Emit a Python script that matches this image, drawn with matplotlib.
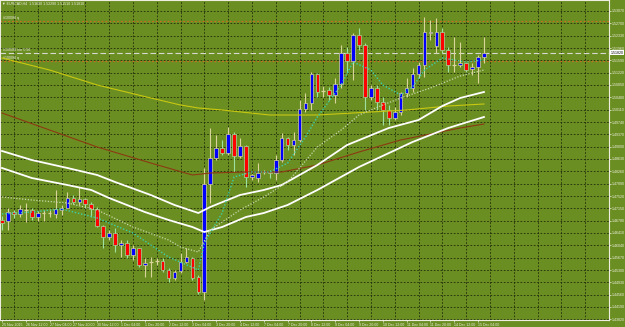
import matplotlib
matplotlib.use('Agg')
import matplotlib.pyplot as plt

plt.rcParams['font.family'] = ['Liberation Sans', 'DejaVu Sans']

# H4 candles, bar 0 = 25 Nov 2015 20:00
opens = [1.4680, 1.4677, 1.4704, 1.4698, 1.4710, 1.4710, 1.4689, 1.4701, 1.4701, 1.4698,
         1.4710, 1.4716, 1.4746, 1.4734, 1.4743, 1.4728, 1.4713, 1.4662, 1.4629, 1.4641,
         1.4605, 1.4611, 1.4575, 1.4596, 1.4545, 1.4554, 1.4557, 1.4557, 1.4530, 1.4506,
         1.4527, 1.4554, 1.4566, 1.4509, 1.4464, 1.4788, 1.4866, 1.4896, 1.4881, 1.4938,
         1.4872, 1.4902, 1.4809, 1.4806, 1.4824, 1.4824, 1.4821, 1.4860, 1.4926, 1.4905,
         1.4920, 1.5013, 1.5031, 1.5118, 1.5067, 1.5070, 1.5055, 1.5088, 1.5181, 1.5157,
         1.5235, 1.5205, 1.5049, 1.5076, 1.5034, 1.5010, 1.4986, 1.5004, 1.5061, 1.5076,
         1.5118, 1.5145, 1.5241, 1.5202, 1.5244, 1.5190, 1.5145, 1.5145, 1.5151, 1.5133,
         1.5139, 1.5169]
highs = [1.4692, 1.4716, 1.4710, 1.4725, 1.4731, 1.4716, 1.4707, 1.4710, 1.4713, 1.4770,
         1.4725, 1.4764, 1.4755, 1.4779, 1.4746, 1.4734, 1.4719, 1.4665, 1.4650, 1.4656,
         1.4620, 1.4620, 1.4605, 1.4596, 1.4566, 1.4569, 1.4566, 1.4566, 1.4536, 1.4530,
         1.4581, 1.4596, 1.4569, 1.4515, 1.4836, 1.4956, 1.4935, 1.4920, 1.4959, 1.4944,
         1.4926, 1.4905, 1.4818, 1.4851, 1.4830, 1.4830, 1.4875, 1.4941, 1.4929, 1.4944,
         1.5040, 1.5061, 1.5124, 1.5121, 1.5082, 1.5079, 1.5106, 1.5205, 1.5199, 1.5241,
         1.5256, 1.5211, 1.5085, 1.5085, 1.5049, 1.5025, 1.5019, 1.5064, 1.5106, 1.5136,
         1.5154, 1.5289, 1.5280, 1.5286, 1.5256, 1.5199, 1.5229, 1.5214, 1.5154, 1.5151,
         1.5175, 1.5229]
lows = [1.4650, 1.4650, 1.4686, 1.4689, 1.4674, 1.4680, 1.4677, 1.4677, 1.4689, 1.4686,
        1.4695, 1.4716, 1.4728, 1.4725, 1.4716, 1.4689, 1.4659, 1.4596, 1.4620, 1.4584,
        1.4569, 1.4566, 1.4560, 1.4539, 1.4509, 1.4509, 1.4545, 1.4524, 1.4494, 1.4500,
        1.4521, 1.4551, 1.4500, 1.4458, 1.4440, 1.4731, 1.4860, 1.4875, 1.4875, 1.4824,
        1.4866, 1.4779, 1.4800, 1.4794, 1.4818, 1.4806, 1.4800, 1.4854, 1.4890, 1.4875,
        1.4914, 1.5004, 1.5010, 1.5049, 1.5049, 1.5040, 1.5031, 1.5076, 1.5121, 1.5100,
        1.5190, 1.5010, 1.5040, 1.5010, 1.4965, 1.4965, 1.4980, 1.4995, 1.5049, 1.5064,
        1.5106, 1.5109, 1.5220, 1.5181, 1.5181, 1.5124, 1.5124, 1.5139, 1.5124, 1.5115,
        1.5091, 1.5151]
closes = [1.4671, 1.4704, 1.4698, 1.4713, 1.4710, 1.4689, 1.4701, 1.4701, 1.4701, 1.4713,
          1.4716, 1.4746, 1.4734, 1.4743, 1.4728, 1.4713, 1.4662, 1.4629, 1.4641, 1.4605,
          1.4611, 1.4575, 1.4596, 1.4545, 1.4551, 1.4554, 1.4557, 1.4530, 1.4506, 1.4524,
          1.4554, 1.4569, 1.4506, 1.4464, 1.4788, 1.4866, 1.4896, 1.4881, 1.4938, 1.4872,
          1.4902, 1.4809, 1.4815, 1.4821, 1.4824, 1.4821, 1.4860, 1.4926, 1.4905, 1.4920,
          1.5013, 1.5031, 1.5118, 1.5064, 1.5067, 1.5055, 1.5088, 1.5181, 1.5157, 1.5235,
          1.5205, 1.5049, 1.5076, 1.5034, 1.5010, 1.4986, 1.5004, 1.5061, 1.5076, 1.5118,
          1.5145, 1.5244, 1.5244, 1.5244, 1.5190, 1.5145, 1.5145, 1.5151, 1.5130, 1.5139,
          1.5169, 1.5181]

# indicator lines (bar index, price)
yellow_x = [0, 8, 16, 25, 30, 33, 37, 45, 50, 53, 68, 75, 81]
yellow_y = [1.5166, 1.5130, 1.5085, 1.5046, 1.5025, 1.5016, 1.5010, 1.4995, 1.4995, 1.4995,
            1.5010, 1.5022, 1.5028]
brown_x = [0, 8, 16, 25, 32, 35, 41, 47, 53, 60, 67, 77, 81]
brown_y = [1.5001, 1.4950, 1.4899, 1.4851, 1.4815, 1.4821, 1.4824, 1.4824, 1.4845, 1.4884,
           1.4920, 1.4956, 1.4968]
white1_x = [0, 5, 11, 16, 19, 25, 29, 33, 35, 40, 44, 47, 50, 53, 58, 65, 70, 74, 77, 81]
white1_y = [1.4887, 1.4860, 1.4836, 1.4815, 1.4794, 1.4755, 1.4725, 1.4701, 1.4719, 1.4755,
            1.4770, 1.4785, 1.4815, 1.4845, 1.4905, 1.4956, 1.4980, 1.5022, 1.5046, 1.5064]
white2_x = [0, 5, 11, 15, 18, 24, 28, 32, 34, 37, 41, 44, 48, 53, 60, 69, 75, 81]
white2_y = [1.4836, 1.4806, 1.4785, 1.4770, 1.4746, 1.4704, 1.4680, 1.4659, 1.4644, 1.4659,
            1.4689, 1.4701, 1.4725, 1.4770, 1.4839, 1.4914, 1.4956, 1.4989]
teal_x = [0, 5, 10, 16, 22, 28, 33, 34, 37, 39, 42, 45, 48, 51, 53, 57, 59, 62, 64, 67, 69, 71, 74, 76, 78, 81]
teal_y = [1.4698, 1.4704, 1.4713, 1.4686, 1.4641, 1.4569, 1.4530, 1.4611, 1.4701, 1.4809,
          1.4824, 1.4824, 1.4851, 1.4929, 1.4989, 1.5085, 1.5154, 1.5130, 1.5085, 1.5055,
          1.5079, 1.5130, 1.5166, 1.5160, 1.5154, 1.5160]
pale_x = [0, 5, 11, 16, 22, 28, 30, 33, 35, 40, 44, 48, 53, 57, 60, 64, 67, 72, 77, 81]
pale_y = [1.4749, 1.4740, 1.4731, 1.4710, 1.4659, 1.4620, 1.4599, 1.4584, 1.4650, 1.4710,
          1.4749, 1.4794, 1.4899, 1.4950, 1.4995, 1.5025, 1.5046, 1.5076, 1.5112, 1.5130]

hline_orange = [1.52785, 1.51570]
hline_white = 1.51820
price_ticks = [1.53070 - 0.0037 * k for k in range(26)]
time_bars = [0, 4, 8, 12, 16, 20, 24, 28, 32, 36, 40, 44, 48, 52, 56, 60, 64, 68, 72, 76, 80]
time_labels = ['25 Nov 2015', '26 Nov 12:00', '27 Nov 04:00', '27 Nov 20:00', '30 Nov 12:00',
               '1 Dec 04:00', '1 Dec 20:00', '2 Dec 12:00', '3 Dec 04:00', '3 Dec 20:00',
               '4 Dec 12:00', '7 Dec 04:00', '7 Dec 20:00', '8 Dec 12:00', '9 Dec 04:00',
               '9 Dec 20:00', '10 Dec 12:00', '11 Dec 04:00', '11 Dec 20:00', '14 Dec 12:00',
               '15 Dec 04:00']

bg = '#6b8e23'
fg = '#eeeee0'
fs = 2.6
fig = plt.figure(figsize=(6.25, 3.27), dpi=100)
fig.patch.set_facecolor(bg)
ax = fig.add_axes([0, 7 / 327, 609 / 625, 320 / 327])
ax.set_facecolor(bg)
ax.set_xlim(-2 / 5.95, 607 / 5.95)
ax.set_ylim(1.4380, 1.5340)

# grid
for p in price_ticks:
    ax.axhline(p, color='#1f2a0a', lw=0.6, ls=(0, (2, 2)), zorder=1)
for b in range(2, 103, 4):
    ax.axvline(b, color='#1f2a0a', lw=0.6, ls=(0, (2, 2)), zorder=1)

# horizontal objects
for p in hline_orange:
    ax.axhline(p, color='#d06a20', lw=0.8, ls=(0, (1.5, 2)), zorder=2)
ax.axhline(hline_white, color='#d8d8d0', lw=0.8, ls=(0, (5, 2.5)), zorder=2)
ax.text(0.2, hline_orange[0] + 0.0003, '#1000f0 q', fontsize=fs, color=fg, va='bottom')
ax.text(0.2, hline_white + 0.0003, '#1000f0 hor 0.96', fontsize=fs, color=fg, va='bottom')
ax.text(0.2, hline_orange[1] + 0.0003, '#1000f0 q', fontsize=fs, color=fg, va='bottom')

# candles
w = 0.62
for i in range(len(opens)):
    o, h, l, c = opens[i], highs[i], lows[i], closes[i]
    if c >= o:
        face, edge = '#0000ff', '#d8d49a'
    else:
        face, edge = '#ff0000', '#9ee0a0'
    ax.vlines(i, l, h, color=edge, lw=0.8, zorder=3)
    if abs(c - o) < 1e-6:
        ax.hlines(o, i - w / 2, i + w / 2, color=edge, lw=0.9, zorder=4)
    else:
        ax.bar(i, abs(c - o), bottom=min(o, c), width=w, color=face,
               edgecolor=edge, lw=0.5, zorder=4)

# indicators
ax.plot(yellow_x, yellow_y, color='#c8c810', lw=0.8, zorder=5)
ax.plot(brown_x, brown_y, color='#8b3a12', lw=0.8, zorder=5)
ax.plot(white1_x, white1_y, color='white', lw=1.3, zorder=5)
ax.plot(white2_x, white2_y, color='white', lw=1.3, zorder=5)
ax.plot(teal_x, teal_y, color='#3cd0a8', lw=1.0, ls=(0, (1, 1.3)), zorder=5)
ax.plot(pale_x, pale_y, color='#c8d8a8', lw=0.9, ls=(0, (1, 1.3)), zorder=5)

# axes
for s in ax.spines.values():
    s.set_color(fg)
    s.set_linewidth(0.8)
ax.yaxis.tick_right()
ax.set_yticks(price_ticks)
ax.set_yticklabels(['%.5f' % p for p in price_ticks])
ax.tick_params(axis='y', labelsize=fs, colors=fg, length=1.5, width=0.5, pad=0.8)
ax.set_xticks(time_bars)
ax.set_xticklabels(time_labels, ha='left')
ax.tick_params(axis='x', labelsize=fs, colors=fg, length=1.5, width=0.5, pad=0.5)

ax.annotate('%.5f' % hline_white, xy=(1.003, hline_white), xycoords=('axes fraction', 'data'),
            fontsize=fs, color='black', va='center', ha='left',
            bbox=dict(boxstyle='square,pad=0.15', fc='white', ec='none'))

fig.text(0.004, 0.995, '\u25bc EURCAD,H4  1.51690 1.52290 1.51510 1.51810',
         fontsize=fs, color=fg, va='top', ha='left')

fig.savefig('out.png', dpi=100, facecolor=bg)
